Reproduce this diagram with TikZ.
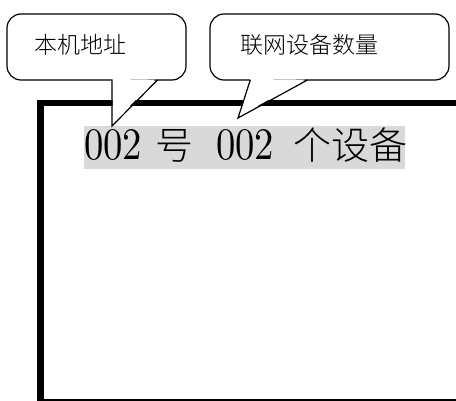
\documentclass[tikz,border=0pt]{standalone}
\usepackage{fontspec}
\newfontfamily\cjk{Noto Sans CJK SC Light}
\newfontfamily\dig{lmroman10-regular.otf}[FakeStretch=0.86]
\tikzset{
  frameline/.style={line width=6.5pt, black},
  bubble/.style={draw=black, line width=1.2pt, fill=white},
  bubbletext/.style={font=\cjk\fontsize{23}{23}\selectfont, inner sep=0pt},
}
\begin{document}
\begin{tikzpicture}[x=1pt,y=-1pt]
\useasboundingbox (0,0) rectangle (456,401);
% frame
\draw[black, line width=2pt] (40,400) -- (456,400);
\draw[frameline] (40.3,401) -- (40.3,103) -- (456,103);
% highlighted display text
\fill[gray!30] (84,126) rectangle (405,169);
\node[anchor=base west, inner sep=0pt] (disp) at (84,160)
  {\dig\fontsize{45}{45}\selectfont 002\hspace{13pt}{\cjk\fontsize{38}{38}\selectfont 号}\hspace{23pt}002\hspace{19pt}{\cjk\fontsize{38}{38}\selectfont 个设备}};
% callout 1
\coordinate (t1) at (112,126);
\draw[bubble, rounded corners=14pt] (7,14) rectangle (186,80);
\fill[white] (112.6,79) -- (112.6,124) -- (155,79.6) -- cycle;
\draw[line width=1.2pt, line join=miter] (112,80.6) -- (t1) -- (157.5,80);
\node[bubbletext] (c1) at (80.5,45) {本机地址};
% callout 2
\coordinate (t2) at (238,118);
\draw[bubble, rounded corners=14pt] (210,14) rectangle (449,80);
\fill[white] (250.5,79) -- (239.5,116) -- (305,79.6) -- cycle;
\draw[line width=1.2pt, line join=miter] (250.3,80) -- (t2) -- (307.5,80);
\node[bubbletext] (c2) at (309.5,45) {联网设备数量};
\end{tikzpicture}
\end{document}
